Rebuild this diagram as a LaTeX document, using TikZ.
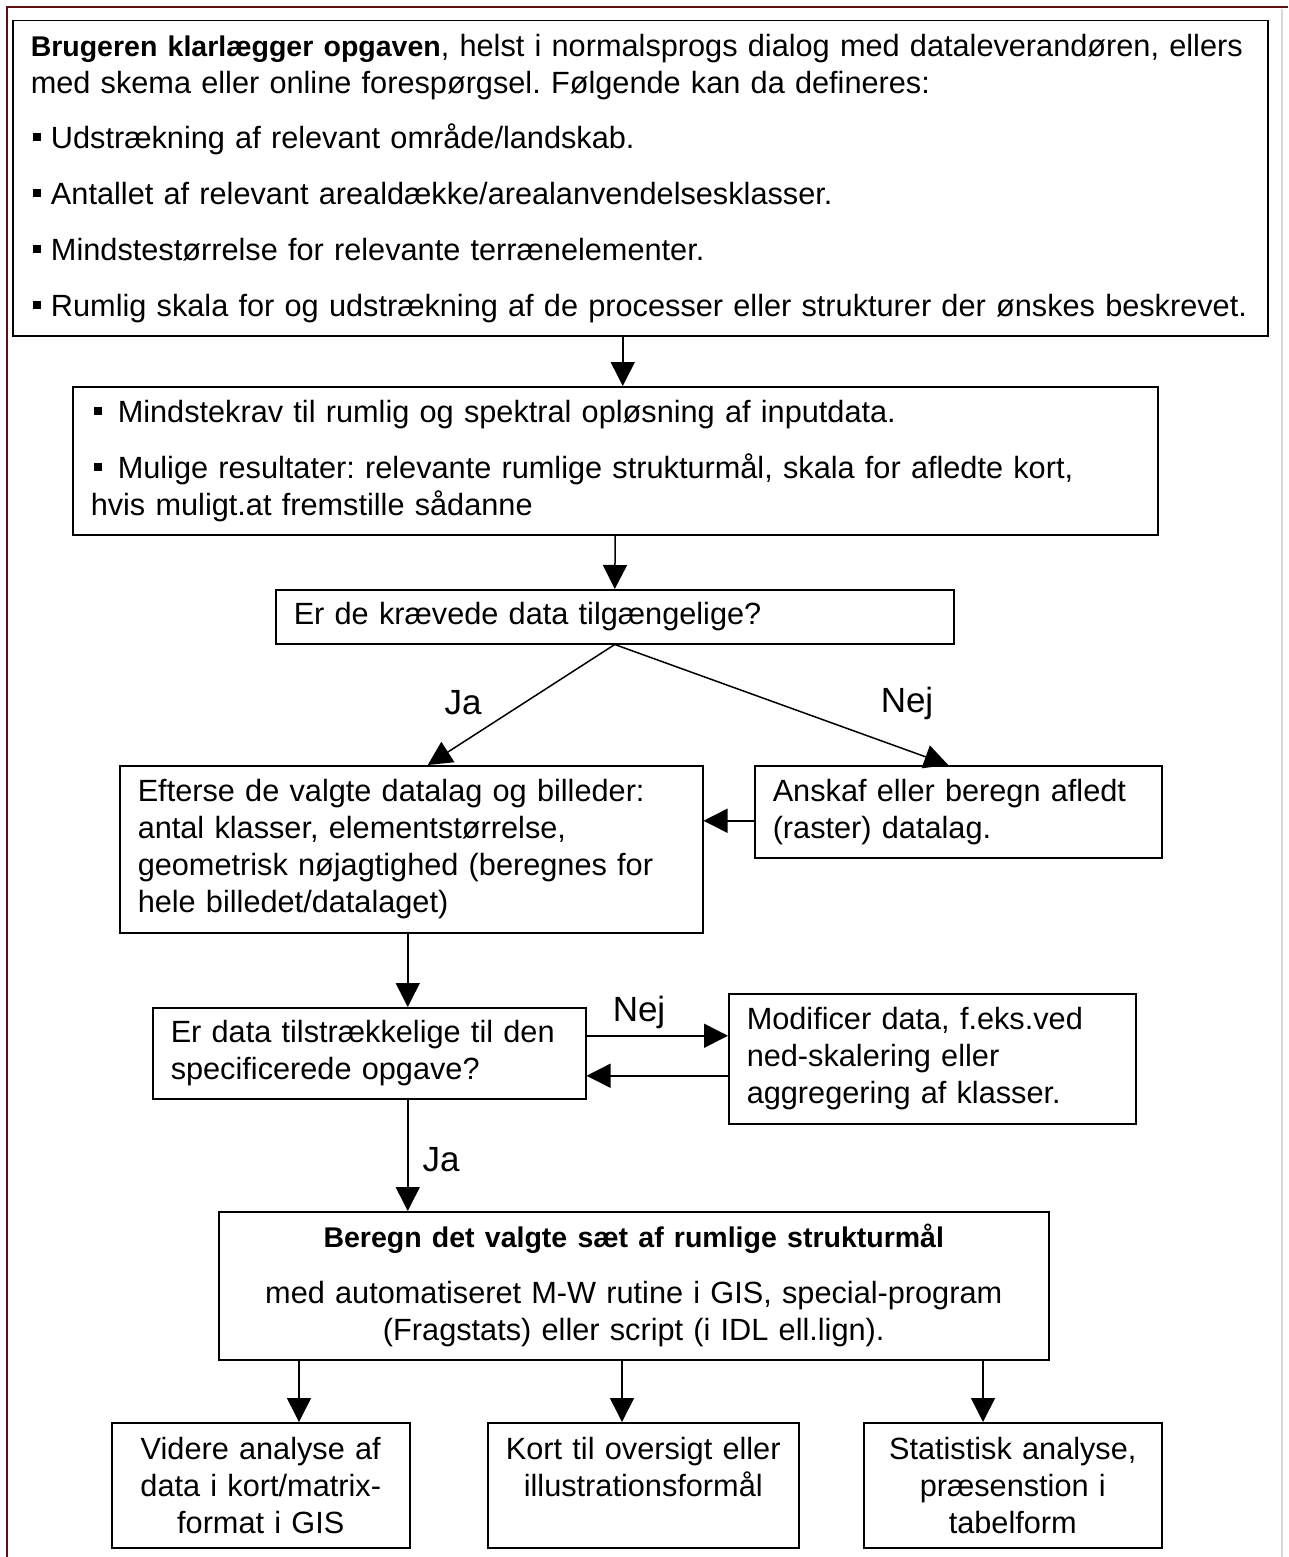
\documentclass[tikz,border=0pt]{standalone}
\usepackage{fontspec}
\setmainfont{Liberation Sans}
\definecolor{framered}{RGB}{96,18,18}
\usetikzlibrary{arrows.meta,positioning,calc}
\newcommand{\fs}{\fontsize{30.7}{37}\selectfont\frenchspacing}
\newcommand{\hd}[1]{{\fontsize{28.5}{37}\selectfont\bfseries #1}}
\newcommand{\sq}{\rule[7pt]{8pt}{8pt}}

\begin{document}
\begin{tikzpicture}[x=1pt,y=-1pt,
    box/.style={draw, line width=1.5pt, anchor=north west, inner xsep=18pt, inner ysep=0pt, align=left, font=\fs},
    cbox/.style={box, inner xsep=6pt, align=center},
    arr/.style={-{Triangle[length=24pt,width=24pt]}, line width=1.5pt},
    lbl/.style={font=\fontsize{35}{40}\selectfont}]
    \useasboundingbox (0,0) rectangle (1288,1557);
    % outer frame
    \draw[framered, line width=2pt] (7,1557) -- (7,7) -- (1288,7);
    \draw[black!15, line width=1.5pt] (1282,9) -- (1282,1557);

    % boxes
    \node[box, text width=1219pt, minimum height=315pt] (task) at (12,20)
        {\hd{Brugeren klarlægger opgaven}, helst i normalsprogs dialog med dataleverandøren, ellers\\
         med skema eller online forespørgsel. Følgende kan da defineres:\\[18pt]
         \hspace*{2pt}\sq\ Udstrækning af relevant område/landskab.\\[19pt]
         \hspace*{2pt}\sq\ Antallet af relevant arealdække/arealanvendelsesklasser.\\[19pt]
         \hspace*{2pt}\sq\ Mindstestørrelse for relevante terrænelementer.\\[19pt]
         \hspace*{2pt}\sq\ Rumlig skala for og udstrækning af de processer eller strukturer der ønskes beskrevet.};
    \node[box, text width=1049pt, minimum height=148pt] (req) at (72,386)
        {\hspace*{3pt}\sq\hspace{16pt}Mindstekrav til rumlig og spektral opløsning af inputdata.\\[19pt]
         \hspace*{3pt}\sq\hspace{16pt}Mulige resultater: relevante rumlige strukturmål, skala for afledte kort,\\
         hvis muligt.at fremstille sådanne};
    \node[box, text width=642pt, minimum height=54pt] (avail) at (275,589)
        {Er de krævede data tilgængelige?};
    \node[box, text width=547pt, minimum height=167pt] (check) at (119,765)
        {Efterse de valgte datalag og billeder:\\ antal klasser, elementstørrelse,\\
         geometrisk nøjagtighed (beregnes for\\ hele billedet/datalaget)};
    \node[box, text width=371pt, minimum height=92pt] (acquire) at (754,765)
        {Anskaf eller beregn afledt\\ (raster) datalag.};
    \node[box, text width=397pt, minimum height=91pt] (enough) at (152,1007)
        {Er data tilstrækkelige til den\\ specificerede opgave?};
    \node[box, text width=371pt, minimum height=130pt] (modify) at (728,993)
        {Modificer data, f.eks.ved\\ ned-skalering eller\\ aggregering af klasser.};
    \node[cbox, text width=818pt, minimum height=148pt] (compute) at (218,1211)
        {\hd{Beregn det valgte sæt af rumlige strukturmål}\\[19pt]
         med automatiseret M-W rutine i GIS, special-program\\ (Fragstats) eller script (i IDL ell.lign).};
    \node[cbox, text width=286pt, minimum height=125pt] (further) at (111,1422)
        {Videre analyse af\\ data i kort/matrix-\\ format i GIS};
    \node[cbox, text width=299pt, minimum height=125pt] (maps) at (487,1422)
        {Kort til oversigt eller\\ illustrationsformål\\ \mbox{}};
    \node[cbox, text width=286pt, minimum height=125pt] (stats) at (863,1422)
        {Statistisk analyse,\\ præsenstion i\\ tabelform};

    % answers
    \node[lbl] (ja1) at (463,703) {Ja};
    \node[lbl] (nej1) at (907,703) {Nej};
    \node[lbl] (nej2) at (639,1012) {Nej};
    \node[lbl] (ja2) at (441,1160) {Ja};

    % connectors
    \draw[arr] ([xshift=-17.5pt]task.south) -- ([xshift=-17.5pt]task.south |- req.north);
    \draw[arr] (req.south) -- (avail.north);
    \draw[arr] (avail.south) -- ([xshift=16.5pt]check.north);
    \draw[arr] (avail.south) -- ([xshift=-10pt]acquire.north);
    \draw[arr] ([yshift=-9pt]acquire.west) -- ([yshift=-9pt]acquire.west -| check.east);
    \draw[arr] ([xshift=-3.5pt]check.south) -- ([xshift=-3.5pt]check.south |- enough.north);
    \draw[arr] ([yshift=17.5pt]enough.east) -- ([yshift=17.5pt]enough.east -| modify.west);
    \draw[arr] ([yshift=-22.5pt]enough.east -| modify.west) -- ([yshift=-22.5pt]enough.east);
    \draw[arr] ([xshift=-3.5pt]check.south |- enough.south) -- ([xshift=-3.5pt]check.south |- compute.north);
    \foreach \d/\n in {81/further,404/maps,765/stats}
        \draw[arr] ([xshift=\d pt]compute.south west) -- ([xshift=\d pt]compute.south west |- \n.north);
\end{tikzpicture}
\end{document}
